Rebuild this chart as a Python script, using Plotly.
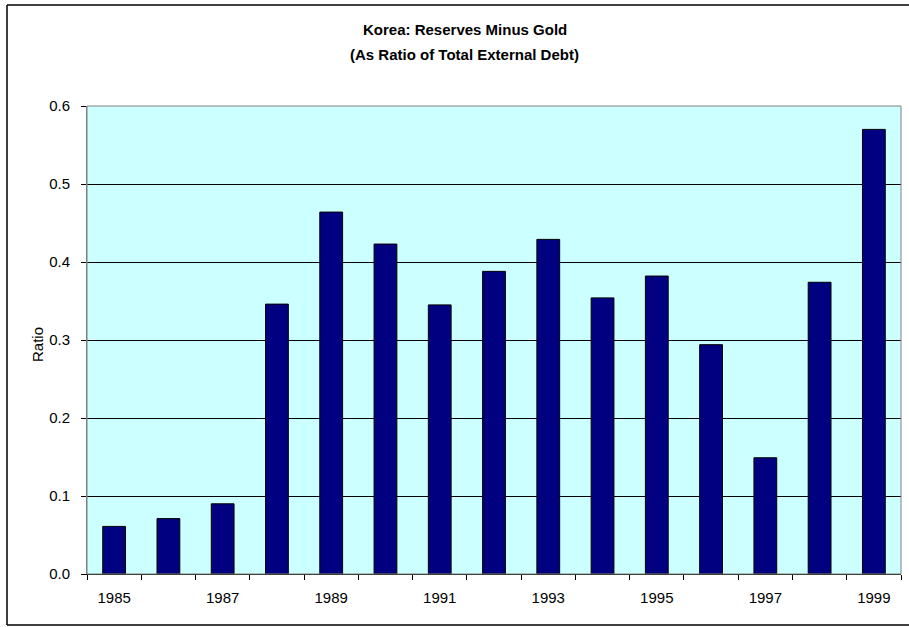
import plotly.graph_objects as go

years = list(range(1985, 2000))
ratio = [0.061, 0.071, 0.090, 0.346, 0.464, 0.423, 0.345, 0.388, 0.429,
         0.354, 0.382, 0.294, 0.149, 0.374, 0.570]
year_labels = [1985, 1987, 1989, 1991, 1993, 1995, 1997, 1999]
title_lines = ["Korea: Reserves Minus Gold", "(As Ratio of Total External Debt)"]
y_title = "Ratio"

W, H = 909, 627
L, T = 87, 106
pw, ph = 814, 468
R, B = W - L - pw, H - T - ph
FONT = "Liberation Sans, Arial"


def px(x):  # screen x -> paper
    return (x - L) / pw


def py(y):  # screen y -> paper
    return 1 - (y - T) / ph


fig = go.Figure(go.Bar(
    x=years, y=ratio,
    marker=dict(color="#000080", line=dict(color="black", width=1)),
    width=0.42,
))

annotations = [
    dict(text="<b>%s</b>" % title_lines[0], x=px(464.5), y=py(30),
         xref="paper", yref="paper", showarrow=False,
         xanchor="center", yanchor="middle", font=dict(size=15)),
    dict(text="<b>%s</b>" % title_lines[1], x=px(464.5), y=py(55),
         xref="paper", yref="paper", showarrow=False,
         xanchor="center", yanchor="middle", font=dict(size=15)),
    dict(text=y_title, x=px(37), y=py(345), textangle=-90,
         xref="paper", yref="paper", showarrow=False,
         xanchor="center", yanchor="middle", font=dict(size=15)),
]

border = dict(color="black", width=1.5)

fig.update_layout(
    width=W, height=H,
    margin=dict(l=L, r=R, t=T, b=B, pad=0),
    paper_bgcolor="white",
    plot_bgcolor="#CCFFFF",
    showlegend=False,
    font=dict(family=FONT, size=15, color="black"),
    annotations=annotations,
    xaxis=dict(
        range=[1984.5, 1999.5],
        tickmode="array", tickvals=year_labels,
        ticktext=[str(y) for y in year_labels],
        ticks="", showgrid=False, zeroline=False,
        showline=True, linecolor="black", linewidth=1,
        ticklabelstandoff=10,
        minor=dict(ticks="outside", ticklen=5, tickcolor="black",
                   tickmode="array",
                   tickvals=[y - 0.5 for y in years] + [1999.5],
                   showgrid=False),
        tickfont=dict(size=15),
    ),
    yaxis=dict(
        range=[0, 0.6], dtick=0.1, tick0=0, tickformat=".1f",
        ticks="outside", ticklen=5, tickcolor="black",
        showgrid=True, gridcolor="black", gridwidth=1,
        zeroline=False, showline=True, linecolor="#808080", linewidth=1,
        ticklabelstandoff=8,
        tickfont=dict(size=15),
    ),
    shapes=[
        dict(type="rect", xref="paper", yref="paper", x0=0, x1=1, y0=0, y1=1,
             line=dict(color="#808080", width=1), layer="above"),
        # outer chart frame: left, top, bottom edges
        dict(type="line", xref="paper", yref="paper",
             x0=px(7), x1=px(7), y0=py(625), y1=py(5), line=border),
        dict(type="line", xref="paper", yref="paper",
             x0=px(7), x1=px(909), y0=py(5), y1=py(5), line=border),
        dict(type="line", xref="paper", yref="paper",
             x0=px(7), x1=px(909), y0=py(625), y1=py(625), line=border),
    ],
)

fig.write_html("out.html",
               config={"displayModeBar": False},
               post_script="document.body.style.margin='0';"
                           "document.body.style.padding='0';")
